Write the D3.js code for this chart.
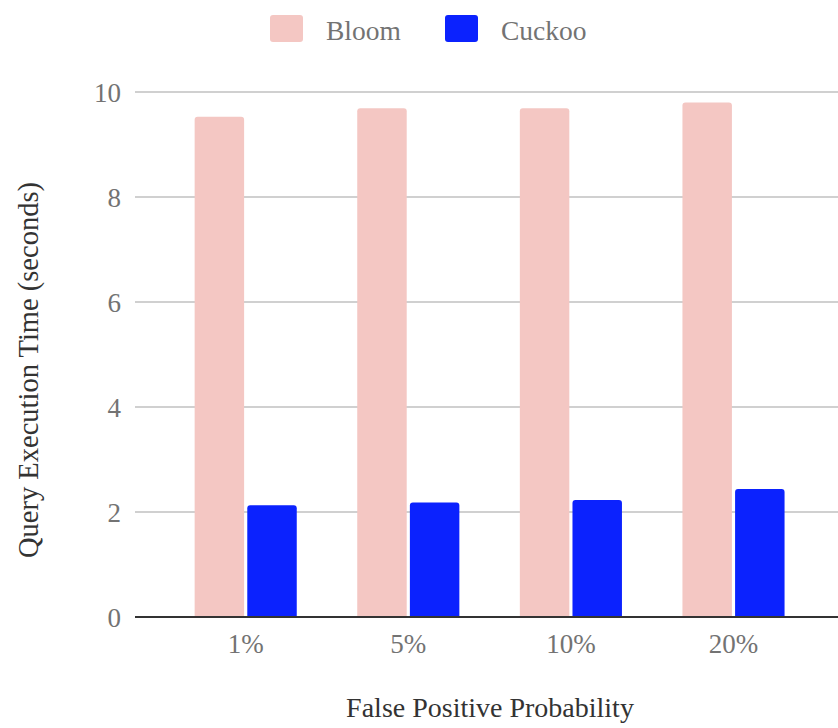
<!DOCTYPE html>
<html>
<head>
<meta charset="utf-8">
<script src="https://cdn.jsdelivr.net/npm/d3@7"></script>
<style>
  html, body { margin: 0; padding: 0; background: #fff; }
  svg { display: block; }
  text { font-family: "Liberation Serif", "Times New Roman", serif; }
</style>
</head>
<body>
<svg id="chart" width="838" height="728"></svg>
<script>
// Query execution time per false positive probability setting
const categories = ["1%", "5%", "10%", "20%"];
const seriesNames = ["Bloom", "Cuckoo"];
const bloomValues = [9.53, 9.69, 9.69, 9.80];
const cuckooValues = [2.13, 2.18, 2.23, 2.44];
const yTicks = [0, 2, 4, 6, 8, 10];
const colors = ["#f4c7c3", "#0b22fe"];

const seriesValues = [bloomValues, cuckooValues];
const rows = categories.map((c, i) => ({
  category: c,
  values: seriesNames.map((s, k) => ({ series: s, value: seriesValues[k][i], color: colors[k] }))
}));

const svg = d3.select("#chart");
const plotLeft = 135, plotRight = 838, plotTop = 92, plotBottom = 617;

const y = d3.scaleLinear().domain([0, 10]).range([plotBottom, plotTop]);
const x = d3.scaleBand().domain(categories)
  .range([164.4, 814.8]).paddingInner(0.372).paddingOuter(0.186);
const xs = d3.scaleBand().domain(seriesNames)
  .range([0, x.bandwidth()]).paddingInner(0.06);

// Horizontal gridlines
svg.append("g")
  .selectAll("line")
  .data(yTicks.filter(t => t !== 0))
  .join("line")
  .attr("x1", plotLeft).attr("x2", plotRight)
  .attr("y1", d => y(d)).attr("y2", d => y(d))
  .attr("stroke", "#d0d0d0").attr("stroke-width", 2);

// Y axis tick labels
const yAxis = d3.axisLeft(y).tickValues(yTicks).tickSize(0).tickPadding(0).tickFormat(d3.format("d"));
const gy = svg.append("g").attr("transform", `translate(121,0)`).call(yAxis);
gy.select(".domain").remove();
gy.selectAll("text")
  .attr("fill", "#737373")
  .style("font-size", "27px")
  .attr("dy", "0.35em");

// Bars with lightly rounded tops
function topRounded(x0, y0, w, h, r) {
  r = Math.min(r, w / 2, h);
  return `M${x0},${y0 + h}V${y0 + r}Q${x0},${y0} ${x0 + r},${y0}H${x0 + w - r}Q${x0 + w},${y0} ${x0 + w},${y0 + r}V${y0 + h}Z`;
}

svg.append("g")
  .selectAll("g")
  .data(rows)
  .join("g")
  .attr("transform", d => `translate(${x(d.category)},0)`)
  .selectAll("path")
  .data(d => d.values)
  .join("path")
  .attr("fill", d => d.color)
  .attr("d", d => topRounded(xs(d.series), y(d.value), xs.bandwidth(), y(0) - y(d.value), 3));

// Baseline axis
svg.append("line")
  .attr("x1", plotLeft).attr("x2", plotRight)
  .attr("y1", y(0)).attr("y2", y(0))
  .attr("stroke", "#333").attr("stroke-width", 2);

// X axis tick labels
const xAxis = d3.axisBottom(x).tickSize(0).tickPadding(0);
const gx = svg.append("g").attr("transform", `translate(0,${plotBottom})`).call(xAxis);
gx.select(".domain").remove();
gx.selectAll("text")
  .attr("fill", "#737373")
  .style("font-size", "27px")
  .attr("y", 36)
  .attr("dy", 0);

// Axis titles
svg.append("text")
  .attr("x", 490).attr("y", 717)
  .attr("text-anchor", "middle")
  .attr("fill", "#333")
  .style("font-size", "28px")
  .text("False Positive Probability");

svg.append("text")
  .attr("transform", "translate(38,370) rotate(-90)")
  .attr("text-anchor", "middle")
  .attr("fill", "#333")
  .style("font-size", "28.5px")
  .text("Query Execution Time (seconds)");

// Legend
const legendX = [270, 445];
const legend = svg.append("g")
  .selectAll("g")
  .data(seriesNames)
  .join("g")
  .attr("transform", (d, i) => `translate(${legendX[i]},15)`);
legend.append("rect")
  .attr("width", 33).attr("height", 27).attr("rx", 3)
  .attr("fill", (d, i) => colors[i]);
legend.append("text")
  .attr("x", 56).attr("y", 25)
  .attr("fill", "#737373")
  .style("font-size", "27.5px")
  .text(d => d);
</script>
</body>
</html>
